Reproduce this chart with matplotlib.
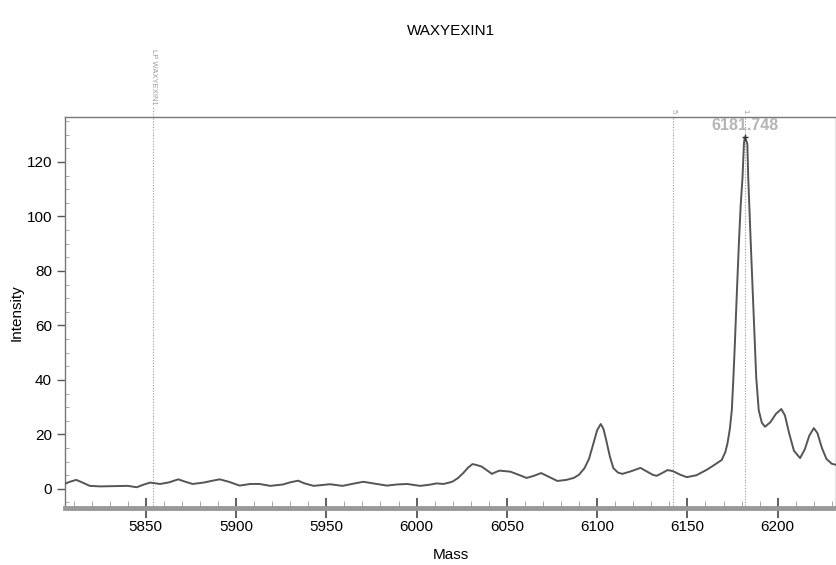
import matplotlib
matplotlib.use('Agg')
import matplotlib.pyplot as plt
from matplotlib.ticker import MultipleLocator

plt.rcParams['font.family'] = ['Liberation Sans', 'DejaVu Sans']

# spectrum (mass, intensity)
mass = [5805, 5808, 5811.5, 5815, 5819, 5825, 5832, 5840, 5845, 5849,
        5852.5, 5858, 5863, 5868, 5872, 5876, 5882, 5887, 5891, 5896,
        5902, 5908, 5913, 5919, 5926, 5930, 5934.4, 5938, 5943, 5952,
        5959, 5965, 5970.5, 5977, 5983.6, 5989, 5994.7, 6002, 6007, 6011,
        6015, 6018.6, 6020, 6023, 6026, 6028.5, 6031, 6033.5, 6036, 6039,
        6041.7, 6044, 6046, 6052, 6056, 6061, 6065, 6069, 6073, 6078,
        6083, 6087, 6090, 6093, 6095.5, 6098, 6100, 6102, 6103.5, 6105,
        6107, 6109, 6111.5, 6114, 6119, 6124, 6128, 6131, 6133, 6136,
        6139, 6142, 6146, 6149.7, 6155, 6160.7, 6164.5, 6169, 6171, 6172.2,
        6173.5, 6174.6, 6175.5, 6176.3, 6177, 6178.5, 6179.5, 6180.5, 6181.3, 6181.75,
        6182.5, 6183.2, 6183.7, 6185.1, 6186.6, 6188.1, 6189.5, 6191.2, 6193, 6196,
        6199, 6202, 6204, 6206.5, 6209, 6212.4, 6215, 6217.5, 6220, 6222,
        6224.5, 6227, 6230, 6232.5]
intensity = [1.8, 2.6, 3.3, 2.3, 1.1, 0.9, 1.0, 1.1, 0.6, 1.6,
             2.3, 1.8, 2.4, 3.5, 2.6, 1.8, 2.3, 3.0, 3.5, 2.6,
             1.2, 1.8, 1.8, 1.1, 1.6, 2.4, 3.0, 2.0, 1.1, 1.7,
             1.1, 1.9, 2.6, 1.9, 1.2, 1.6, 1.8, 1.1, 1.5, 2.0,
             1.8, 2.4, 2.7, 4.0, 5.9, 7.8, 9.1, 8.7, 8.2, 6.8,
             5.5, 6.2, 6.7, 6.3, 5.3, 4.0, 4.8, 5.8, 4.5, 2.9,
             3.3, 4.0, 5.2, 7.6, 11.0, 16.8, 21.5, 23.8, 22.0, 18.0,
             12.0, 7.6, 6.0, 5.5, 6.5, 7.7, 6.2, 5.1, 4.8, 5.8,
             6.9, 6.5, 5.2, 4.3, 5.0, 7.0, 8.6, 10.6, 13.5, 16.7,
             22.0, 28.9, 41.1, 53.4, 65.5, 90.0, 104.0, 114.0, 126.6, 129.0,
             128.0, 126.6, 114.0, 90.0, 65.5, 41.1, 28.9, 24.3, 22.8, 24.5,
             27.5, 29.3, 27.0, 20.0, 14.0, 11.3, 14.5, 19.5, 22.3, 20.5,
             15.0, 11.0, 9.2, 8.8]

# marker lines above the plot
marker_mass = [5854.2, 6142, 6181.75]
marker_text = ['LP WAXYEXIN1', '5', '1']
peak_mass = 6181.748
peak_int = 129.0

fig = plt.figure(figsize=(8.36, 5.65), dpi=100)
ax = fig.add_axes([0.078, 0.101, 0.922, 0.692])

ax.plot(mass, intensity, color='#555555', lw=1.4, zorder=3)

for m, t in zip(marker_mass, marker_text):
    ax.axvline(m, color='#999999', lw=0.8, ls=(0, (1, 1.5)), zorder=1)
    if t == 'LP WAXYEXIN1':
        ax.axvline(m, ymin=1.0, ymax=1.025, color='#999999', lw=0.8,
                   ls=(0, (1, 1.5)), clip_on=False)
        ax.text(m, 1.03, t, transform=ax.get_xaxis_transform(), rotation=-90,
                ha='center', va='bottom', fontsize=5.5, color='#999999')
    else:
        ax.text(m, 1.01, t, transform=ax.get_xaxis_transform(), rotation=-90,
                ha='center', va='bottom', fontsize=5.5, color='#999999')

ax.text(peak_mass, peak_int + 1.5, f'{peak_mass:.3f}', ha='center', va='bottom',
        fontsize=11.5, color='#b5b5b5', fontweight='bold')
ax.plot([peak_mass], [peak_int], marker='+', color='#333333', ms=5, mew=1, zorder=4)

ax.set_xlim(5805.4, 6232.3)
ax.set_ylim(-7, 136.5)

ax.xaxis.set_major_locator(MultipleLocator(50))
ax.xaxis.set_minor_locator(MultipleLocator(10))
ax.yaxis.set_major_locator(MultipleLocator(20))
ax.yaxis.set_minor_locator(MultipleLocator(5))

for side in ['top', 'right', 'left']:
    ax.spines[side].set_color('#777777')
    ax.spines[side].set_linewidth(1.0)
ax.spines['bottom'].set_color('#999999')
ax.spines['bottom'].set_linewidth(3.5)

ax.tick_params(axis='x', which='major', direction='inout', length=14, width=1.2,
               color='#444444', labelsize=11, pad=2)
ax.tick_params(axis='x', which='minor', direction='in', length=5, width=0.6,
               color='#999999')
ax.tick_params(axis='y', which='major', direction='out', length=6, width=1.0,
               color='#555555', labelsize=11)
ax.tick_params(axis='y', which='minor', direction='in', length=3, width=0.6,
               color='#999999')

ax.set_xlabel('Mass', fontsize=11, labelpad=10)
ax.set_ylabel('Intensity', fontsize=11, labelpad=2)
fig.text(0.539, 0.945, 'WAXYEXIN1', ha='center', va='center', fontsize=11)

fig.savefig('out.png', dpi=100)
